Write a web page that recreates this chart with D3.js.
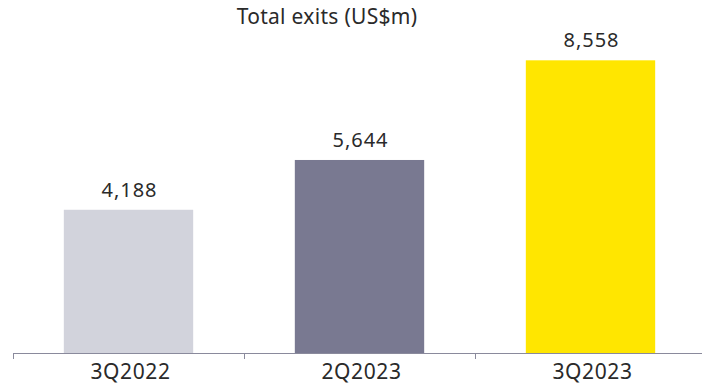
<!DOCTYPE html>
<html>
<head>
<meta charset="utf-8">
<script src="https://cdn.jsdelivr.net/npm/d3@7"></script>
<style>
  html, body { margin: 0; padding: 0; background: #fff; }
  svg { display: block; font-family: "Noto Sans", "Open Sans", sans-serif; }
</style>
</head>
<body>
<svg id="chart" width="702" height="387"></svg>
<script>
// Total exits by quarter (US$m)
const categories = ["3Q2022", "2Q2023", "3Q2023"];
const values = [4188, 5644, 8558];
const colors = ["#D2D3DC", "#797991", "#FFE600"];
const title = "Total exits (US$m)";

const svg = d3.select("#chart");
const baseY = 353;
const textColor = "#2a2a2a";

const x = d3.scaleBand()
  .domain(categories)
  .range([13, 706])
  .paddingInner(0.44)
  .paddingOuter(0.22);

const y = d3.scaleLinear()
  .domain([0, 10000])
  .range([baseY, 11]);

// Bars
svg.append("g")
  .selectAll("rect")
  .data(values)
  .join("rect")
  .attr("x", (d, i) => x(categories[i]))
  .attr("y", d => y(d))
  .attr("width", x.bandwidth())
  .attr("height", d => baseY - y(d))
  .attr("fill", (d, i) => colors[i]);

// Value labels
svg.append("g")
  .selectAll("text")
  .data(values)
  .join("text")
  .attr("x", (d, i) => x(categories[i]) + x.bandwidth() / 2 + 1)
  .attr("y", d => y(d) - 13)
  .attr("text-anchor", "middle")
  .attr("font-size", 20)
  .attr("letter-spacing", 1)
  .attr("fill", textColor)
  .text(d => d3.format(",")(d));

// Category axis with ticks at band boundaries
const axisG = svg.append("g");
axisG.append("line")
  .attr("x1", 13).attr("x2", 702)
  .attr("y1", baseY + 0.5).attr("y2", baseY + 0.5)
  .attr("stroke", "#8a8a9c").attr("stroke-width", 1);

const tickXs = categories.map((c, i) => 13 + i * (706 - 13) / categories.length);
axisG.selectAll("line.tick")
  .data(tickXs)
  .join("line")
  .attr("class", "tick")
  .attr("x1", d => Math.round(d) + 0.5).attr("x2", d => Math.round(d) + 0.5)
  .attr("y1", baseY).attr("y2", baseY + 6)
  .attr("stroke", "#8a8a9c");

axisG.selectAll("text")
  .data(categories)
  .join("text")
  .attr("x", c => x(c) + x.bandwidth() / 2 + 2)
  .attr("y", 379)
  .attr("text-anchor", "middle")
  .attr("font-size", 21)
  .attr("letter-spacing", 0.6)
  .attr("fill", textColor)
  .text(c => c);

// Title
svg.append("text")
  .attr("x", 327)
  .attr("y", 24)
  .attr("text-anchor", "middle")
  .attr("font-size", 21)
  .attr("letter-spacing", 0.3)
  .attr("fill", textColor)
  .text(title);
</script>
</body>
</html>
